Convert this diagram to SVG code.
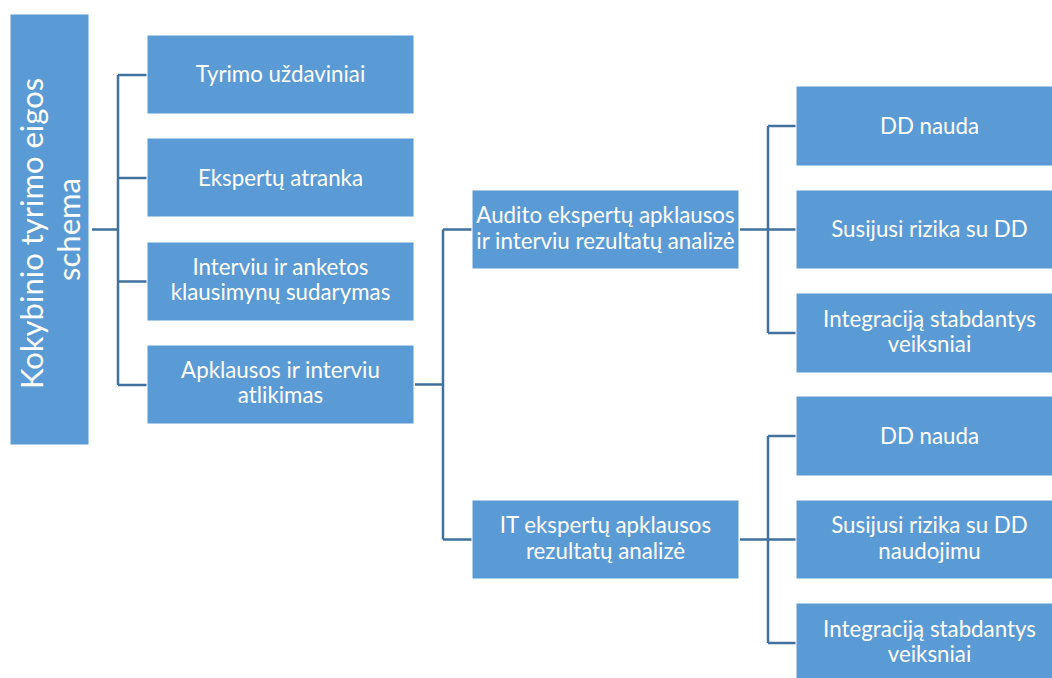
<svg xmlns="http://www.w3.org/2000/svg" width="1052" height="678" viewBox="0 0 1052 678">
  <style>
    .box { fill: #5B9BD5; stroke: #ffffff; stroke-width: 1; }
    .lbl { fill: #ffffff; font-family: Lato, "Open Sans", "Liberation Sans", sans-serif; font-size: 22.3px; text-anchor: middle; }
    .title { fill: #ffffff; font-family: Lato, "Open Sans", "Liberation Sans", sans-serif; font-size: 31px; text-anchor: middle; }
    .wire { fill: none; stroke: #41719C; stroke-width: 2.5; }
  </style>

  <!-- connectors -->
  <g id="connectors">
    <path class="wire" d="M92 229.5 H118 M118 75 V385 M118 75 H147 M118 178 H147 M118 281.5 H147 M118 385 H147"/>
    <path class="wire" d="M415 384.5 H443 M443 229.5 V539.5 M443 229.5 H472 M443 539.5 H472"/>
    <path class="wire" d="M740 229.5 H796 M768 126 V333 M768 126 H796 M768 333 H796"/>
    <path class="wire" d="M740 539.5 H796 M768 436 V643 M768 436 H796 M768 643 H796"/>
  </g>

  <!-- root -->
  <g id="root">
    <rect class="box" x="10" y="14" width="79" height="431"/>
    <text class="title" transform="translate(49.5 229.5) rotate(-90)">
      <tspan x="0" y="-7">Kokybinio tyrimo eigos</tspan>
      <tspan x="0" y="30.5">schema</tspan>
    </text>
  </g>

  <!-- first level -->
  <g id="n-uzdaviniai">
    <rect class="box" x="147" y="35" width="267" height="79"/>
    <text class="lbl" x="280.5" y="82">Tyrimo uždaviniai</text>
  </g>
  <g id="n-atranka">
    <rect class="box" x="147" y="138" width="267" height="79"/>
    <text class="lbl" x="280.5" y="185.5">Ekspertų atranka</text>
  </g>
  <g id="n-klausimynai">
    <rect class="box" x="147" y="242" width="267" height="79"/>
    <text class="lbl" x="280.5" y="275">Interviu ir anketos</text>
    <text class="lbl" x="280.5" y="300">klausimynų sudarymas</text>
  </g>
  <g id="n-atlikimas">
    <rect class="box" x="147" y="345" width="267" height="79"/>
    <text class="lbl" x="280.5" y="378">Apklausos ir interviu</text>
    <text class="lbl" x="280.5" y="403">atlikimas</text>
  </g>

  <!-- second level -->
  <g id="n-audito">
    <rect class="box" x="472" y="190" width="267" height="79"/>
    <text class="lbl" x="605.5" y="223">Audito ekspertų apklausos</text>
    <text class="lbl" x="605.5" y="249">ir interviu rezultatų analizė</text>
  </g>
  <g id="n-it">
    <rect class="box" x="472" y="500" width="267" height="79"/>
    <text class="lbl" x="605.5" y="533">IT ekspertų apklausos</text>
    <text class="lbl" x="605.5" y="558.5">rezultatų analizė</text>
  </g>

  <!-- third level: audit branch -->
  <g id="n-a-nauda">
    <rect class="box" x="796" y="86" width="267" height="80"/>
    <text class="lbl" x="929.5" y="133.5">DD nauda</text>
  </g>
  <g id="n-a-rizika">
    <rect class="box" x="796" y="190" width="267" height="79"/>
    <text class="lbl" x="929.5" y="237">Susijusi rizika su DD</text>
  </g>
  <g id="n-a-veiksniai">
    <rect class="box" x="796" y="293" width="267" height="80"/>
    <text class="lbl" x="929.5" y="326.5">Integraciją stabdantys</text>
    <text class="lbl" x="929.5" y="352">veiksniai</text>
  </g>

  <!-- third level: IT branch -->
  <g id="n-it-nauda">
    <rect class="box" x="796" y="396" width="267" height="80"/>
    <text class="lbl" x="929.5" y="443.5">DD nauda</text>
  </g>
  <g id="n-it-rizika">
    <rect class="box" x="796" y="500" width="267" height="79"/>
    <text class="lbl" x="929.5" y="533">Susijusi rizika su DD</text>
    <text class="lbl" x="929.5" y="558.5">naudojimu</text>
  </g>
  <g id="n-it-veiksniai">
    <rect class="box" x="796" y="603" width="267" height="80"/>
    <text class="lbl" x="929.5" y="636.5">Integraciją stabdantys</text>
    <text class="lbl" x="929.5" y="662">veiksniai</text>
  </g>
</svg>
